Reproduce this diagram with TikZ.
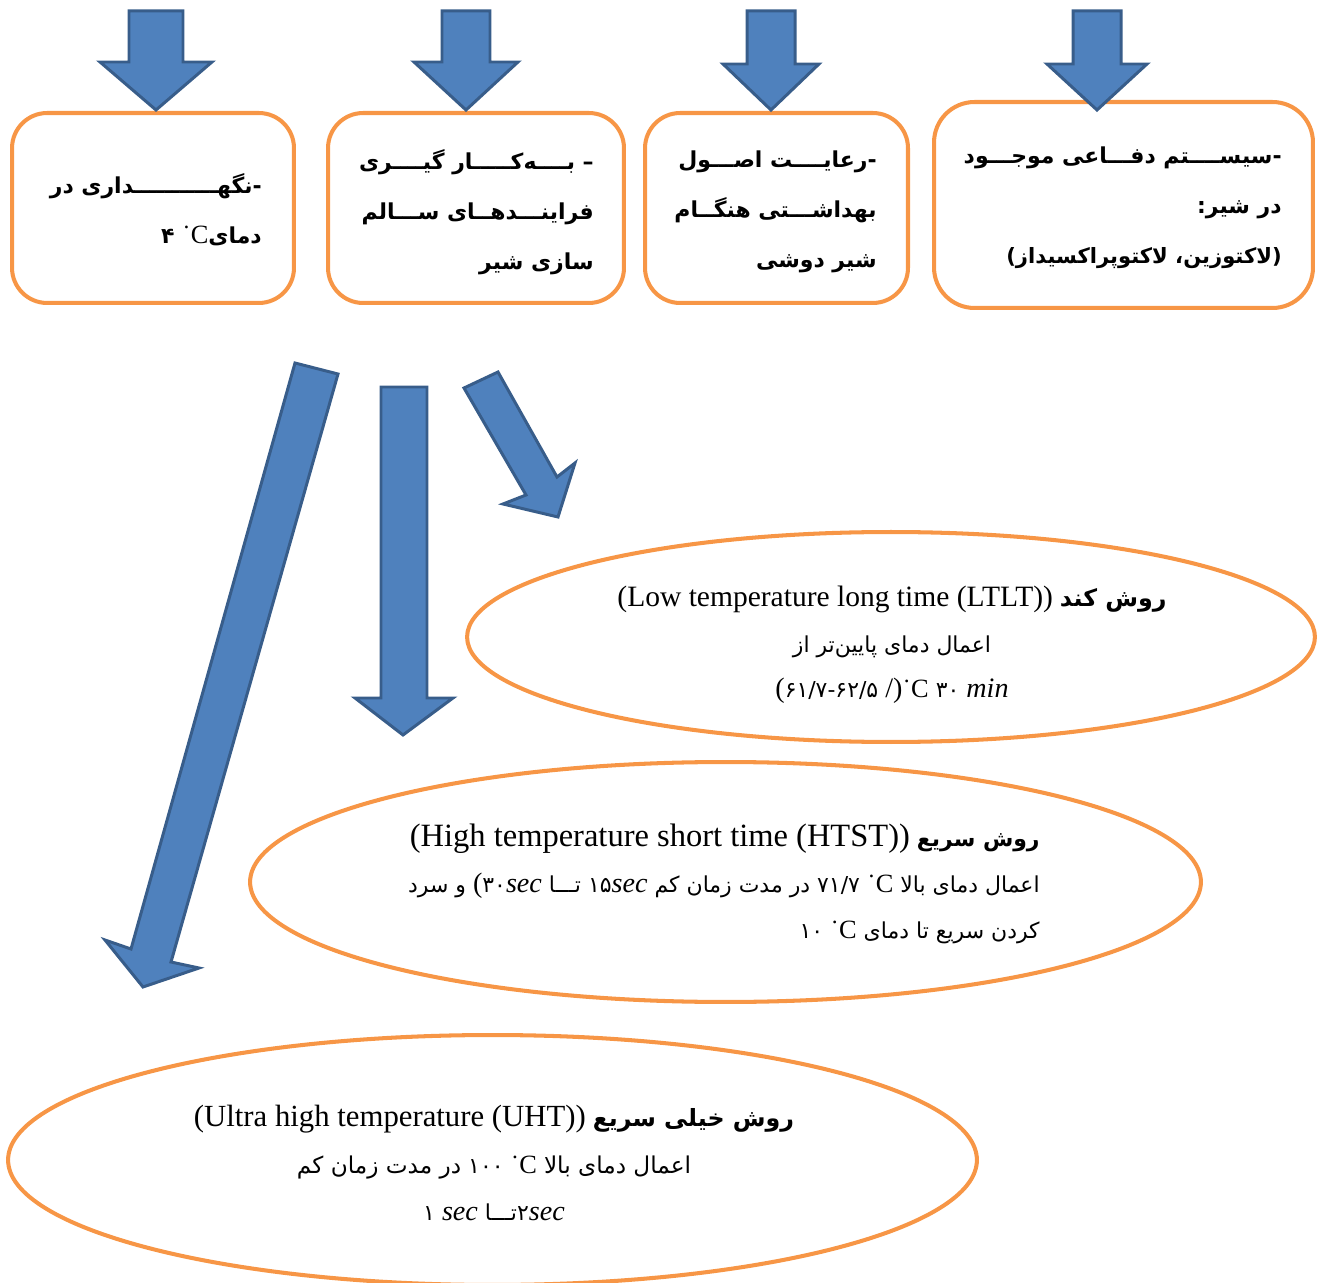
\documentclass[tikz,border=0pt]{standalone}
\usepackage{fontspec}
\setmainfont{Liberation Serif}
\newfontfamily\fa[Script=Arabic]{DejaVu Sans}
\TeXXeTstate=1
\usetikzlibrary{shapes.geometric}
\usetikzlibrary{positioning}
\definecolor{boxorange}{HTML}{F79646}
\definecolor{arrowblue}{HTML}{4F81BD}
\definecolor{arrowedge}{HTML}{385D8A}

\newcommand\fareg{\fa\mdseries\fontsize{12.5}{\baselineskip}\selectfont}
\newcommand\fabold{\fa\bfseries\fontsize{13.5}{\baselineskip}\selectfont}
\newcommand\degC{{\rmfamily\mdseries\fontsize{15}{\baselineskip}\selectfont ˙C}}
\newcommand\tw{ـ}

\tikzset{
	rulebox/.style={draw=boxorange, line width=2.3pt, rounded corners=20pt, inner sep=0pt},
	methodoval/.style={ellipse, draw=boxorange, line width=2.3pt, inner sep=0pt},
	blockarrow/.style={fill=arrowblue, draw=arrowedge, line width=1.7pt},
	boxtext/.style={font=\fa\bfseries\fontsize{12.5}{28.5}\selectfont, align=right, inner sep=0pt},
	ovaltext/.style={font=\fontsize{16}{26}\selectfont, inner sep=0pt},
}

\begin{document}
\begin{tikzpicture}[x=0.02cm, y=-0.02cm]
	\useasboundingbox (0,0) rectangle (1319,1283);
	
	%boxes
	\node[rulebox, minimum width=5.64cm, minimum height=3.8cm] (keep) at (153,208) {};
	\node[rulebox, minimum width=5.92cm, minimum height=3.8cm] (process) at (476,208) {};
	\node[rulebox, minimum width=5.26cm, minimum height=3.8cm] (hygiene) at (776.5,208) {};
	\node[rulebox, minimum width=7.58cm, minimum height=4.12cm, rounded corners=23pt] (defence) at (1123.5,205) {};
	
	%ovals
	\node[methodoval, minimum width=16.96cm, minimum height=4.2cm] (ltlt) at (891,637) {};
	\node[methodoval, minimum width=19.02cm, minimum height=4.8cm] (htst) at (725.5,882) {};
	\node[methodoval, minimum width=19.38cm, minimum height=5cm] (uht) at (492.5,1160) {};
	
	%arrows into the boxes
	\foreach \cx/\sw/\hw/\sy in {156/27/56/62, 466/24/52/62, 771/24/48/64, 1097/24/50/64}
		\filldraw[blockarrow] (\cx-\sw,11) -- (\cx+\sw,11) -- (\cx+\sw,\sy) -- (\cx+\hw,\sy)
			-- (\cx,110) -- (\cx-\hw,\sy) -- (\cx-\sw,\sy) -- cycle;
	
	%arrows to the methods
	\filldraw[blockarrow] (295,363) -- (338,374) -- (171,962) -- (199,968) -- (143,987)
		-- (105,940) -- (131,949) -- cycle;
	\filldraw[blockarrow] (381,387) -- (427,387) -- (427,698) -- (453,698) -- (403,735)
		-- (355,698) -- (381,698) -- cycle;
	\filldraw[blockarrow] (464,388) -- (498,372) -- (557,477) -- (575,463) -- (558,517)
		-- (503,504) -- (526,495) -- cycle;
	
	%box labels
	\node[boxtext, anchor=east] (keeptext) at (262,210)
		{\beginR -نگه\tw\tw\tw\tw\tw\tw\tw\tw\tw\tw\tw{}داری در\endR\\ ۴ \degC{}دمای};
	\node[boxtext, anchor=east] (processtext) at (594,212)
		{\beginR – بــــه‌کـــــار گیــــری\endR\\ \beginR فراینـــدهــای ســـالم\endR\\ \beginR سازی شیر\endR};
	\node[boxtext, anchor=east] (hygienetext) at (877,212)
		{\beginR -رعایــــت اصـــول\endR\\ \beginR بهداشـــتی هنگــام\endR\\ \beginR شیر دوشی\endR};
	\node[boxtext, anchor=east] (defencetext) at (1282,208)
		{\beginR -سیســــتم دفـــاعی موجـــود\endR\\ \beginR در شیر:\endR\\
		 {\fontsize{12}{\baselineskip}\selectfont\beginR(لاکتوزین، لاکتوپراکسیداز)\endR}};
	
	%oval labels
	\node[ovaltext, align=center] (ltlttext) at (892,645)
		{{\fontsize{16.8}{26}\selectfont (Low temperature long time (LTLT))} {\fabold\beginR روش کند\endR}\\
		 {\fareg\beginR اعمال دمای پایین‌تر از\endR}\\
		 ({\fareg ۶۱/۷-۶۲/۵} /)\degC{} {\fareg ۳۰} \textit{min}};
	\node[ovaltext, align=right, anchor=east] (htsttext) at (1040,884)
		{{\fontsize{18.5}{26}\selectfont (High temperature short time (HTST))} {\fabold\fontsize{12.5}{\baselineskip}\selectfont\beginR روش سریع\endR}\\
		 {\fareg\beginR و سرد\endR} ({\fareg ۳۰}\textit{sec} {\fareg تـــا} {\fareg ۱۵}\textit{sec}
		 {\fareg\beginR در مدت زمان کم\endR} {\fareg ۷۱/۷} \degC{} {\fareg\beginR اعمال دمای بالا\endR}\\
		 {\fareg ۱۰} \degC{} {\fareg\beginR کردن سریع تا دمای\endR}};
	\node[ovaltext, align=center, font=\fontsize{16}{27}\selectfont] (uhttext) at (494,1163)
		{{\fontsize{17.5}{27}\selectfont (Ultra high temperature (UHT))} {\fabold\beginR روش خیلی سریع\endR}\\
		 {\fareg\fontsize{13.2}{\baselineskip}\selectfont\beginR در مدت زمان کم\endR} {\fareg ۱۰۰} \degC{}
		 {\fareg\fontsize{13.2}{\baselineskip}\selectfont\beginR اعمال دمای بالا\endR}\\
		 {\fareg ۱} \textit{sec} {\fareg تـــا}\kern0pt{\fareg ۲}\textit{sec}};
	
\end{tikzpicture}
\end{document}
